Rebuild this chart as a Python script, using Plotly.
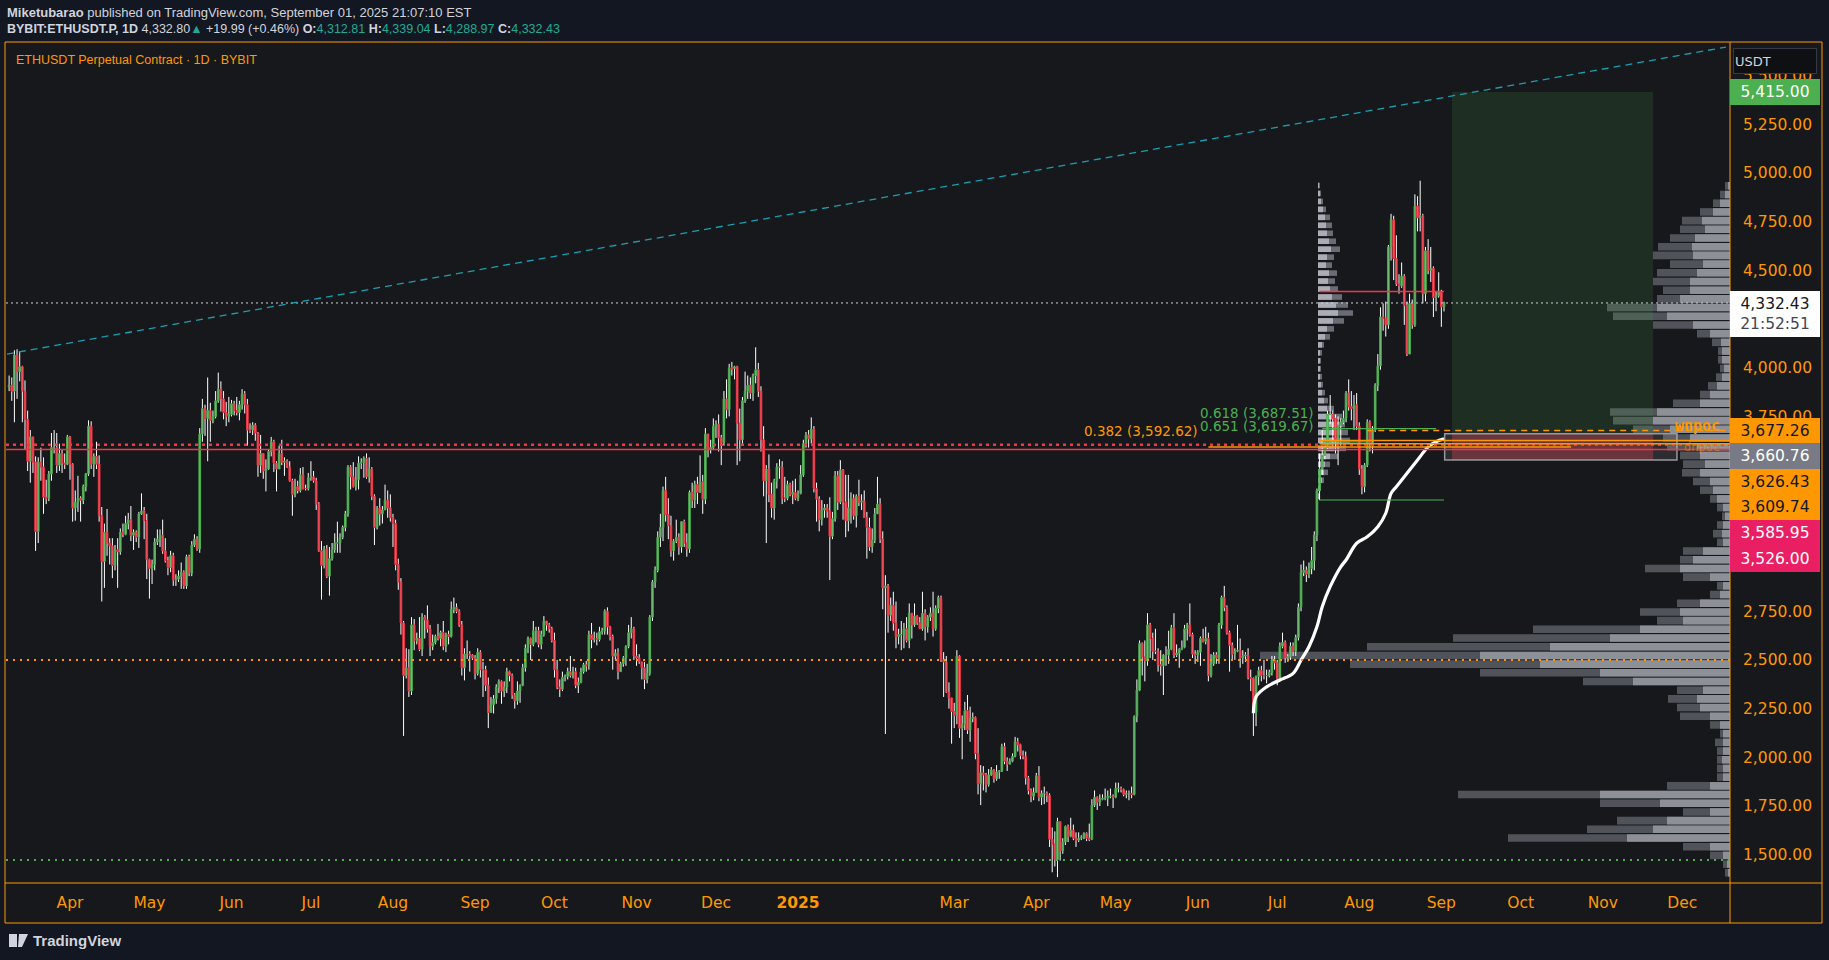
import pandas as pd
import plotly.graph_objects as go

# ---------------- DATA ----------------
first_open = 3900.0
month_starts = ["2024-03-09", "2024-04-01", "2024-05-01", "2024-06-01", "2024-07-01", "2024-08-01",
                "2024-09-01", "2024-10-01", "2024-11-01", "2024-12-01", "2025-01-01", "2025-02-01",
                "2025-03-01", "2025-04-01", "2025-05-01", "2025-06-01", "2025-07-01", "2025-08-01",
                "2025-09-01"]

close_m = [
    [3910,3880,4065,3980,4005,3880,3735,3520,3645,3515,3160,3515,3490,3335,3330,3455,3590,3590,3500,3560,3510,3505,3645],
    [3505,3280,3310,3330,3320,3390,3455,3700,3505,3545,3505,3240,3005,3155,3100,3085,2985,3065,3055,3155,3145,3200,3220,3140,3155,3130,3250,3265,3215,3015],
    [2970,2990,3105,3120,3140,3060,3010,2975,3035,2910,2915,2930,2950,2880,3030,2945,3090,3120,3070,3660,3790,3740,3780,3730,3750,3830,3890,3840,3770,3750,3760],
    [3815,3780,3770,3810,3865,3810,3680,3680,3705,3665,3500,3560,3470,3480,3570,3620,3510,3480,3560,3515,3520,3490,3420,3350,3390,3370,3450,3380,3380,3435],
    [3440,3420,3300,3060,2985,3070,2930,3020,3065,3100,3100,3130,3180,3250,3490,3440,3390,3425,3510,3515,3535,3440,3480,3340,3180,3280,3250,3270,3320,3280,3230],
    [3200,2990,2900,2690,2420,2460,2340,2680,2600,2610,2555,2720,2705,2660,2570,2590,2620,2610,2640,2570,2630,2620,2760,2770,2750,2680,2460,2530,2530,2525,2510],
    [2430,2540,2450,2450,2370,2230,2270,2300,2360,2390,2340,2360,2440,2420,2320,2290,2340,2370,2460,2560,2610,2580,2650,2650,2580,2630,2700,2680,2660,2600],
    [2450,2360,2350,2410,2415,2440,2420,2440,2370,2385,2440,2475,2470,2630,2605,2610,2605,2645,2650,2750,2670,2620,2520,2535,2440,2480,2510,2570,2640,2660,2520],
    [2510,2490,2460,2400,2430,2720,2900,2960,3130,3180,3370,3245,3190,3060,3110,3130,3080,3210,3100,3070,3360,3320,3400,3360,3415,3325,3660,3580,3590,3700],
    [3710,3640,3615,3840,3785,4000,3995,4005,3715,3630,3830,3880,3910,3870,3960,3990,3880,3630,3420,3480,3350,3280,3420,3490,3490,3330,3330,3400,3350,3360,3330],
    [3355,3450,3610,3655,3635,3685,3380,3325,3220,3270,3280,3265,3135,3225,3445,3310,3475,3310,3215,3280,3330,3240,3340,3310,3315,3230,3180,3080,3115,3250,3300],
    [3120,2870,2880,2730,2780,2690,2620,2630,2630,2660,2600,2740,2680,2725,2690,2660,2740,2670,2720,2740,2660,2765,2820,2500,2490,2335,2305,2235],
    [2215,2520,2150,2170,2240,2140,2200,2205,2020,1865,1920,1910,1860,1910,1935,1890,1925,1930,2055,1980,1965,1980,2005,2080,2065,2010,2005,1895,1830,1800,1820],
    [1905,1795,1815,1815,1805,1580,1555,1475,1670,1520,1565,1645,1595,1625,1585,1575,1585,1590,1610,1585,1580,1755,1795,1770,1785,1790,1790,1800,1800,1795],
    [1840,1840,1835,1810,1815,1815,1810,2210,2345,2585,2515,2495,2680,2610,2545,2545,2475,2470,2525,2525,2555,2665,2525,2535,2555,2565,2660,2680,2630,2530,2525],
    [2540,2610,2595,2610,2420,2480,2525,2510,2680,2820,2770,2640,2575,2530,2545,2550,2510,2520,2525,2410,2405,2230,2415,2445,2420,2420,2420,2435,2500,2485],
    [2405,2570,2590,2510,2515,2570,2545,2615,2770,2950,2960,2940,2970,3010,3140,3370,3480,3550,3590,3760,3760,3740,3630,3705,3720,3740,3870,3800,3790,3810,3700],
    [3480,3390,3500,3720,3610,3680,3910,4010,4260,4255,4220,4620,4760,4560,4430,4420,4470,4320,4070,4330,4220,4830,4770,4780,4380,4600,4500,4510,4360,4370,4390],
    [4312.81,4332.43],
]
high_m = [
    [3960,3950,4090,4095,4085,4010,3935,3780,3680,3615,3545,3540,3590,3540,3425,3470,3665,3680,3665,3610,3580,3560,3655],
    [3650,3510,3370,3445,3340,3400,3460,3730,3725,3560,3620,3550,3285,3200,3275,3125,3125,3090,3125,3175,3200,3240,3255,3290,3170,3165,3260,3355,3285,3250],
    [3020,3015,3125,3170,3170,3220,3125,3030,3060,3050,2940,2960,3000,2960,3040,3040,3110,3145,3135,3690,3840,3810,3950,3820,3780,3880,3975,3930,3880,3825,3850],
    [3835,3830,3850,3830,3890,3880,3840,3715,3720,3715,3670,3655,3560,3530,3580,3645,3630,3520,3600,3630,3540,3530,3520,3430,3430,3420,3485,3490,3400,3460],
    [3520,3470,3435,3310,3110,3085,3090,3080,3100,3150,3210,3150,3190,3265,3500,3500,3515,3490,3545,3535,3545,3560,3540,3490,3350,3290,3330,3290,3400,3370,3350],
    [3250,3220,3020,2920,2700,2560,2555,2720,2710,2640,2720,2740,2730,2780,2680,2630,2630,2685,2650,2700,2640,2650,2800,2820,2790,2760,2700,2560,2600,2545,2530],
    [2525,2560,2550,2490,2470,2410,2310,2320,2375,2400,2395,2390,2460,2445,2430,2330,2390,2375,2480,2580,2620,2615,2700,2670,2670,2650,2725,2700,2690,2670],
    [2640,2500,2400,2440,2425,2460,2520,2465,2460,2410,2460,2485,2495,2650,2690,2645,2640,2670,2665,2760,2770,2675,2630,2555,2560,2490,2520,2575,2680,2720,2670],
    [2580,2530,2490,2490,2480,2730,2910,2980,3160,3250,3390,3440,3330,3240,3120,3220,3150,3210,3220,3150,3370,3410,3420,3440,3550,3450,3690,3650,3630,3740],
    [3730,3760,3655,3880,3940,4020,4030,4010,4010,3790,3850,3980,3960,3950,3970,4105,4025,3905,3700,3500,3555,3410,3430,3510,3530,3520,3440,3420,3410,3420,3430],
    [3370,3500,3630,3670,3680,3745,3700,3410,3340,3320,3300,3300,3335,3260,3470,3470,3525,3480,3450,3450,3360,3350,3350,3425,3350,3370,3260,3230,3175,3280,3440],
    [3330,3160,2935,2890,2820,2850,2800,2660,2700,2690,2720,2790,2740,2790,2730,2720,2850,2760,2730,2770,2850,2780,2830,2830,2540,2520,2385,2300],
    [2280,2550,2525,2215,2285,2320,2260,2230,2210,2150,1960,1955,1920,1940,1950,1940,1960,1935,2070,2075,2000,1995,2020,2105,2100,2070,2035,2030,1905,1840,1845],
    [1920,1955,1830,1850,1825,1815,1640,1620,1690,1670,1585,1650,1655,1690,1655,1615,1615,1600,1615,1615,1660,1785,1830,1800,1810,1810,1840,1830,1840,1810],
    [1870,1870,1850,1840,1830,1830,1850,2215,2400,2600,2590,2600,2740,2690,2640,2660,2560,2550,2530,2570,2650,2680,2740,2580,2560,2600,2680,2690,2790,2640,2550],
    [2550,2620,2660,2670,2640,2530,2540,2540,2690,2830,2880,2780,2650,2590,2560,2680,2610,2550,2540,2560,2450,2410,2420,2465,2470,2500,2450,2450,2520,2520],
    [2500,2590,2640,2600,2530,2590,2590,2630,2790,2990,3010,2980,3000,3080,3160,3380,3560,3680,3610,3780,3860,3780,3760,3750,3740,3780,3880,3940,3880,3860,3870],
    [3720,3500,3510,3735,3730,3700,3920,4070,4310,4330,4340,4630,4790,4780,4680,4480,4540,4480,4340,4380,4350,4890,4880,4960,4790,4620,4660,4620,4520,4390,4490],
    [4400,4339.04],
]
low_m = [
    [3880,3830,3720,3840,3930,3720,3580,3470,3410,3460,3060,3100,3420,3250,3300,3315,3420,3560,3460,3470,3460,3480,3500],
    [3425,3210,3215,3260,3210,3300,3365,3445,3480,3440,3480,3210,2800,2870,3035,2990,2920,2960,2870,3040,3130,3140,3170,3110,3065,3105,3075,3245,3120,2915],
    [2815,2890,2960,3090,3080,3045,3000,2935,2950,2880,2880,2900,2865,2865,2865,2930,2930,3080,3060,3050,3620,3650,3520,3620,3715,3740,3820,3775,3735,3700,3720],
    [3750,3755,3755,3730,3785,3765,3600,3665,3655,3625,3440,3460,3430,3365,3475,3545,3465,3365,3485,3500,3445,3485,3415,3240,3335,3355,3360,3375,3370,3370],
    [3420,3410,3270,3055,2810,2970,2920,2830,3010,3050,3050,3050,3120,3160,3235,3375,3385,3370,3375,3480,3435,3430,3410,3320,3090,3170,3190,3200,3280,3230,3210],
    [3080,2960,2860,2630,2110,2405,2310,2320,2550,2580,2545,2520,2610,2640,2520,2550,2580,2600,2570,2550,2540,2580,2615,2740,2740,2670,2420,2395,2505,2440,2500],
    [2400,2420,2410,2310,2340,2150,2235,2225,2275,2330,2275,2310,2330,2390,2300,2250,2270,2280,2365,2440,2535,2500,2570,2590,2565,2555,2620,2650,2640,2590],
    [2410,2350,2310,2340,2390,2400,2410,2405,2355,2330,2380,2430,2440,2450,2560,2590,2575,2595,2630,2630,2630,2600,2450,2500,2400,2440,2465,2470,2560,2610,2500],
    [2470,2480,2400,2350,2380,2420,2700,2870,2950,3080,3110,3210,3120,3030,3010,3100,3040,3050,3080,3030,3050,3280,3280,3300,3360,3250,3300,3540,3560,3580],
    [3640,3570,3500,3600,3740,3750,3960,3940,3500,3520,3610,3820,3840,3840,3830,3920,3850,3570,3340,3100,3310,3230,3220,3380,3430,3300,3310,3320,3340,3300,3320],
    [3315,3350,3440,3590,3590,3610,3360,3210,3160,3190,3230,3230,2910,3120,3210,3270,3300,3220,3130,3160,3200,3220,3180,3290,3270,3230,3020,3060,3050,3100,3260],
    [3100,2760,2120,2640,2700,2650,2560,2580,2550,2560,2590,2560,2610,2670,2680,2660,2650,2600,2640,2700,2620,2650,2740,2490,2310,2330,2250,2070],
    [2150,2170,2100,1990,2140,2120,2080,2180,1990,1810,1755,1830,1820,1850,1905,1870,1880,1890,1925,1965,1930,1965,1975,2000,2030,1990,1990,1860,1810,1770,1780],
    [1820,1775,1755,1760,1770,1540,1410,1440,1385,1470,1505,1550,1565,1590,1575,1540,1565,1575,1580,1570,1570,1575,1745,1730,1750,1780,1780,1750,1790,1740],
    [1790,1820,1820,1800,1790,1780,1790,1805,2180,2340,2420,2390,2470,2510,2500,2530,2440,2420,2320,2470,2480,2550,2510,2515,2460,2550,2560,2600,2620,2510,2480],
    [2490,2470,2590,2580,2390,2410,2470,2480,2480,2660,2750,2630,2440,2500,2500,2540,2460,2480,2490,2400,2340,2110,2160,2370,2390,2400,2380,2410,2420,2450],
    [2370,2390,2560,2485,2490,2500,2520,2520,2600,2750,2930,2900,2920,2940,2960,3110,3320,3450,3530,3580,3710,3600,3560,3500,3600,3710,3720,3780,3730,3680,3680],
    [3450,3350,3360,3490,3570,3560,3670,3880,3990,4190,4160,4200,4550,4450,4420,4380,4410,4220,4060,4070,4200,4210,4700,4700,4330,4340,4480,4440,4260,4290,4360],
    [4210,4288.97],
]

# anchored VWAP (white curve)
vwap_dates = ["2025-06-22", "2025-06-23", "2025-06-27", "2025-07-02", "2025-07-07", "2025-07-10",
              "2025-07-13", "2025-07-16", "2025-07-18", "2025-07-21", "2025-07-25", "2025-07-27",
              "2025-07-31", "2025-08-04", "2025-08-08", "2025-08-11", "2025-08-13", "2025-08-15",
              "2025-08-20", "2025-08-23", "2025-08-27", "2025-08-30", "2025-09-02"]
vwap_vals = [2226, 2311, 2362, 2397, 2431, 2499, 2568, 2670, 2773, 2876, 2978, 3013,
             3099, 3132, 3184, 3253, 3355, 3389, 3475, 3526, 3594, 3620, 3635]

# visible-range volume profile (80 rows from the range low to the range high)
vp_low, vp_high = 1385.0, 4956.0
vp_total = [5, 7, 20, 47, 222, 143, 113, 47, 130, 272, 63, 13, 13, 13, 13, 15, 10, 20, 50, 53,
            62, 53, 147, 250, 380, 470, 363, 277, 197, 73, 90, 53, 20, 13, 47, 85, 50, 47, 13, 17,
            13, 8, 13, 20, 30, 37, 48, 47, 50, 63, 67, 97, 117, 120, 57, 30, 22, 14, 10, 12,
            12, 18, 33, 77, 117, 123, 73, 67, 77, 73, 60, 77, 72, 60, 50, 48, 30, 17, 10, 5]
vp_up = [2, 3, 7, 20, 103, 77, 63, 20, 70, 130, 20, 7, 7, 8, 7, 7, 7, 10, 20, 30,
         33, 27, 97, 130, 190, 250, 180, 120, 90, 47, 50, 30, 10, 7, 20, 50, 37, 27, 7, 8,
         7, 5, 7, 13, 17, 20, 30, 25, 30, 33, 40, 60, 77, 73, 30, 20, 13, 8, 6, 8,
         8, 9, 20, 37, 63, 73, 50, 40, 40, 33, 27, 37, 38, 35, 25, 28, 17, 10, 5, 2]

# session volume profile (anchored at Jul 17 2025)
sp_start = "2025-07-17"
sp_low, sp_step = 3320.0, 40.9
sp_total = [2, 3, 6, 10, 12, 20, 28, 32, 30, 27, 24, 16, 10, 7, 5, 4, 3, 3, 4, 6,
            12, 16, 26, 35, 30, 24, 20, 17, 19, 14, 16, 22, 18, 15, 14, 12, 8, 5, 3, 2]
sp_up = [1, 2, 4, 6, 7, 12, 16, 19, 18, 16, 14, 9, 6, 4, 3, 2, 2, 2, 2, 4,
         7, 9, 15, 20, 18, 14, 12, 10, 11, 8, 9, 13, 11, 9, 8, 7, 5, 3, 2, 1]

# levels
last_price = 4332.43
target_price = 5415.00
entry_price = 3660.76
stop_price = 3526.00
red_dotted_level = 3605.0
red_solid_level = 3580.0
orange_dotted_level = 2500.0
green_dotted_level = 1473.0
session_poc = 4391.0
fib_base = 3321.0
wnpoc_level = 3677.26
dnpoc_level = 3612.0
orange_levels = [3626.43, 3609.74]
fib_618, fib_651, fib_382 = 3687.51, 3619.67, 3592.62
trend_dates = ["2024-03-08 05:00", "2025-12-17 12:00"]
trend_prices = [4070.0, 5646.0]
axis_tags = [(3677.26, "#ff9800", "#131722"), (3660.76, "#787b86", "#ffffff"),
             (3626.43, "#ff9800", "#131722"), (3609.74, "#ff9800", "#131722"),
             (3585.95, "#e91e63", "#ffffff"), (3526.00, "#e91e63", "#ffffff")]
month_labels = ["Apr", "May", "Jun", "Jul", "Aug", "Sep", "Oct", "Nov", "Dec", "<b>2025</b>",
                "Mar", "Apr", "May", "Jun", "Jul", "Aug", "Sep", "Oct", "Nov", "Dec"]
month_ticks = ["2024-04-01", "2024-05-01", "2024-06-01", "2024-07-01", "2024-08-01", "2024-09-01",
               "2024-10-01", "2024-11-01", "2024-12-01", "2025-01-01", "2025-03-01", "2025-04-01",
               "2025-05-01", "2025-06-01", "2025-07-01", "2025-08-01", "2025-09-01", "2025-10-01",
               "2025-11-01", "2025-12-01"]
price_ticks = [1500, 1750, 2000, 2250, 2500, 2750, 3750, 4000, 4500, 4750, 5000, 5250, 5500]

# ---------------- BUILD ----------------
dates, opens, closes, highs, lows = [], [], [], [], []
prev = first_open
for ms, cs, hs, ls in zip(month_starts, close_m, high_m, low_m):
    start = pd.Timestamp(ms)
    for j, (c, h, l) in enumerate(zip(cs, hs, ls)):
        dates.append(start + pd.Timedelta(days=j))
        opens.append(prev)
        closes.append(c)
        highs.append(max(h, prev, c))
        lows.append(min(l, prev, c))
        prev = c

W, H = 1829, 960
L, R, T, B = 6, 1730, 42, 883
def fx(px):
    return (px - L) / (R - L)
def fy(py):
    return (B - py) / (B - T)

base = pd.Timestamp("2024-04-01")
ppd = 2.6474
xr0 = base + pd.Timedelta(days=(L - 70) / ppd)
xr1 = base + pd.Timedelta(days=(R - 70) / ppd)
yr = [1355.0, 5672.0]

ORANGE = "#ff9800"
GREEN = "#4caf50"
RED = "#f23645"
AXFONT = "DejaVu Sans"

fig = go.Figure()

# main volume profile (x axis 'x', reversed, anchored at the right edge)
vp_step = (vp_high - vp_low) / len(vp_total)
vp_y = [vp_low + vp_step * (i + 0.5) for i in range(len(vp_total))]
fig.add_trace(go.Bar(x=vp_total, y=vp_y, orientation="h", xaxis="x", yaxis="y",
                     width=vp_step * 0.87, marker=dict(color="#505359", line=dict(width=0)),
                     hoverinfo="skip", showlegend=False))
fig.add_trace(go.Bar(x=vp_up, y=vp_y, orientation="h", xaxis="x", yaxis="y",
                     width=vp_step * 0.87, marker=dict(color="#8d9097", line=dict(width=0)),
                     hoverinfo="skip", showlegend=False))

# session profile (x axis 'x2', zero at the session start)
sp_y = [sp_low + sp_step * (i + 0.5) for i in range(len(sp_total))]
fig.add_trace(go.Bar(x=sp_total, y=sp_y, orientation="h", xaxis="x2", yaxis="y",
                     width=sp_step * 0.7, marker=dict(color="rgba(115,118,128,0.9)", line=dict(width=0)),
                     hoverinfo="skip", showlegend=False))
fig.add_trace(go.Bar(x=sp_up, y=sp_y, orientation="h", xaxis="x2", yaxis="y",
                     width=sp_step * 0.7, marker=dict(color="rgba(178,181,190,0.9)", line=dict(width=0)),
                     hoverinfo="skip", showlegend=False))

# wicks (drawn on the hidden twin date axis x3, below the bodies)
wx, wy = [], []
for d, h, l in zip(dates, highs, lows):
    wx += [d, d, None]
    wy += [l, h, None]
fig.add_trace(go.Scatter(x=wx, y=wy, mode="lines", xaxis="x3", yaxis="y",
                         line=dict(color="#ffffff", width=1),
                         hoverinfo="skip", showlegend=False))

# candle bodies
fig.add_trace(go.Candlestick(
    x=dates, open=opens, close=closes,
    high=[max(o, c) for o, c in zip(opens, closes)],
    low=[min(o, c) for o, c in zip(opens, closes)],
    xaxis="x4", yaxis="y", whiskerwidth=0,
    increasing=dict(line=dict(color=GREEN, width=1), fillcolor="rgba(76,175,80,0.72)"),
    decreasing=dict(line=dict(color=RED, width=1), fillcolor="rgba(242,54,69,0.72)"),
    hoverinfo="skip", showlegend=False))

# anchored VWAP
fig.add_trace(go.Scatter(x=vwap_dates, y=vwap_vals, mode="lines", xaxis="x4", yaxis="y",
                         line=dict(color="#ffffff", width=3.2, shape="spline"),
                         hoverinfo="skip", showlegend=False))

shapes = []
shapes.append(dict(type="rect", xref="paper", yref="paper", x0=fx(5), x1=fx(1822), y0=fy(923), y1=fy(42),
                   fillcolor="#17181c", line=dict(width=0), layer="below"))

def hline(y, color, width=1, dash="solid", x0=None, x1=None):
    if x0 is None:
        return dict(type="line", xref="paper", yref="y", x0=0, x1=1, y0=y, y1=y,
                    line=dict(color=color, width=width, dash=dash))
    return dict(type="line", xref="x4", yref="y", x0=x0, x1=x1, y0=y, y1=y,
                line=dict(color=color, width=width, dash=dash))

xend = xr1
# long position tool
shapes.append(dict(type="rect", xref="x4", yref="y", x0="2025-09-05", x1="2025-11-20",
                   y0=entry_price, y1=target_price, fillcolor="rgba(76,175,80,0.15)",
                   line=dict(width=0)))
shapes.append(dict(type="rect", xref="x4", yref="y", x0="2025-09-05", x1="2025-11-20",
                   y0=stop_price, y1=entry_price, fillcolor="rgba(242,54,69,0.32)",
                   line=dict(width=0)))
shapes.append(dict(type="rect", xref="x4", yref="y", x0="2025-09-02 06:00", x1="2025-11-29",
                   y0=stop_price, y1=entry_price, fillcolor="rgba(200,200,205,0.12)",
                   line=dict(color="rgba(190,190,195,0.75)", width=1.5)))

# full-width levels
shapes.append(hline(last_price, "#d1d4dc", 1, "2px,3px"))
shapes.append(hline(orange_dotted_level, ORANGE, 2, "2px,5px"))
shapes.append(hline(green_dotted_level, GREEN, 2, "2px,5px"))
shapes.append(hline(red_dotted_level, RED, 2.5, "3px,4px"))
shapes.append(hline(red_solid_level, RED, 1.5))

# partial levels
shapes.append(hline(wnpoc_level, ORANGE, 1.5, "6px,5px", "2025-08-04", xend))
for lv in orange_levels:
    shapes.append(hline(lv, ORANGE, 1.5, "solid", "2025-07-17", xend))
shapes.append(hline(fib_382, ORANGE, 1.5, "solid", "2025-06-05", "2025-10-20"))
shapes.append(hline(fib_618, GREEN, 1.2, "solid", "2025-07-18", "2025-08-30"))
shapes.append(hline(fib_651, GREEN, 1.2, "solid", "2025-07-18", "2025-08-05"))
shapes.append(hline(fib_base, GREEN, 1.2, "solid", sp_start, "2025-09-02"))
shapes.append(hline(session_poc, RED, 1.5, "solid", sp_start, "2025-09-02"))

# trend line
shapes.append(dict(type="line", xref="x4", yref="y", x0=trend_dates[0], x1=trend_dates[1],
                   y0=trend_prices[0], y1=trend_prices[1],
                   line=dict(color="#1a9fb0", width=1.3, dash="7px,5px")))

# frame lines
fr = dict(color=ORANGE, width=1)
shapes.append(dict(type="rect", xref="paper", yref="paper", x0=fx(5), x1=fx(1822), y0=fy(923), y1=fy(42),
                   line=fr, fillcolor="rgba(0,0,0,0)"))
shapes.append(dict(type="line", xref="paper", yref="paper", x0=fx(5), x1=fx(1822), y0=fy(883), y1=fy(883), line=fr))
shapes.append(dict(type="line", xref="paper", yref="paper", x0=fx(1730), x1=fx(1730), y0=fy(923), y1=fy(42), line=fr))

# TradingView logo mark
shapes.append(dict(type="rect", xref="paper", yref="paper", x0=fx(9), x1=fx(17), y0=fy(947), y1=fy(934),
                   fillcolor="#d1d4dc", line=dict(width=0)))
shapes.append(dict(type="path", xref="paper", yref="paper",
                   path=f"M {fx(19)} {fy(934)} L {fx(28)} {fy(934)} L {fx(22)} {fy(947)} L {fx(18)} {fy(947)} Z",
                   fillcolor="#d1d4dc", line=dict(width=0)))

annotations = []
def ptext(text, px, py, size=13, color="#d1d4dc", family="Liberation Sans", xanchor="left"):
    annotations.append(dict(text=text, xref="paper", yref="paper", x=fx(px), y=fy(py),
                            xanchor=xanchor, yanchor="middle", showarrow=False,
                            font=dict(size=size, color=color, family=family)))

TEAL = "#22ab94"
ptext("<b>Miketubarao</b> published on TradingView.com, September 01, 2025 21:07:10 EST", 5, 13)
ptext("<b>BYBIT:ETHUSDT.P, 1D</b> 4,332.80<span style='color:%s'>▲</span> +19.99 (+0.46%%) "
      "<b>O:</b><span style='color:%s'>4,312.81</span> <b>H:</b><span style='color:%s'>4,339.04</span> "
      "<b>L:</b><span style='color:%s'>4,288.97</span> <b>C:</b><span style='color:%s'>4,332.43</span>"
      % (TEAL, TEAL, TEAL, TEAL, TEAL), 5, 29.5, size=12.5)
ptext("ETHUSDT Perpetual Contract · 1D · BYBIT", 14, 60.5, size=12.5, color=ORANGE)
ptext("<b>TradingView</b>", 31, 941, size=15, color="#d1d4dc")
annotations.append(dict(text="USDT", xref="paper", yref="paper", x=fx(1733), y=fy(61), xanchor="left",
                        yanchor="middle", showarrow=False, width=80, height=22, align="left",
                        bgcolor="#0f1014", bordercolor="#363a45", borderwidth=1, borderpad=1,
                        font=dict(size=13, color="#d1d4dc", family=AXFONT)))

# fib labels
def flabel(text, x, y, color, xshift):
    annotations.append(dict(text=text, xref="x4", yref="y", x=x, y=y, xanchor="right", yanchor="bottom",
                            xshift=xshift, yshift=6, showarrow=False,
                            font=dict(size=13.5, color=color, family=AXFONT)))
flabel("0.618 (3,687.51)", "2025-07-18", fib_618, GREEN, -6)
flabel("0.651 (3,619.67)", "2025-07-18", fib_651, GREEN, -6)
flabel("0.382 (3,592.62)", "2025-06-05", fib_382, ORANGE, -8)
annotations.append(dict(text="<b>wnpoc</b>", xref="paper", yref="y", x=fx(1722), y=wnpoc_level,
                        xanchor="right", yanchor="bottom", showarrow=False, yshift=-6,
                        font=dict(size=15, color=ORANGE, family="DejaVu Sans Mono")))
annotations.append(dict(text="dnpoc", xref="paper", yref="y", x=fx(1722), y=wnpoc_level,
                        xanchor="right", yanchor="top", showarrow=False, yshift=-7,
                        font=dict(size=12, color="rgba(255,152,0,0.55)", family="DejaVu Sans Mono")))

# price axis tags
def tag(text, y, bg, fg, yshift=0, height=24, yanchor="middle"):
    annotations.append(dict(text=text, xref="paper", yref="y", x=1, y=y, xanchor="left", yanchor=yanchor,
                            yshift=yshift, showarrow=False, width=88, height=height, align="center",
                            bgcolor=bg, borderpad=1, borderwidth=0,
                            font=dict(size=15.5, color=fg, family=AXFONT)))
tag(f"{target_price:,.2f}", target_price, GREEN, "#ffffff")
tag(f"{last_price:,.2f}<br><span style='color:#434651'>21:52:51</span>", last_price, "#ffffff", "#131722",
    yshift=12, height=44, yanchor="top")
top_tag = axis_tags[0][0]
for k, (v, bg, fg) in enumerate(axis_tags):
    tag(f"{v:,.2f}", top_tag, bg, fg, yshift=-25.6 * k)

date_axis_common = dict(domain=[0, 1], range=[xr0, xr1], type="date", anchor="y",
                        showgrid=False, zeroline=False, showline=False, fixedrange=True,
                        rangeslider=dict(visible=False))
fig.update_layout(
    width=W, height=H,
    margin=dict(l=L, r=W - R, t=T, b=H - B),
    paper_bgcolor="#131722", plot_bgcolor="rgba(0,0,0,0)",
    barmode="overlay", boxgap=0.12, showlegend=False, hovermode=False,
    font=dict(family=AXFONT, color="#d1d4dc"),
    xaxis=dict(domain=[0, 1], range=[R - L, 0], visible=False, anchor="y", fixedrange=True),
    xaxis2=dict(domain=[0, 1], range=[-(1318 - L), R - 1318], visible=False, anchor="y", fixedrange=True),
    xaxis3=dict(visible=False, **date_axis_common),
    xaxis4=dict(tickmode="array", tickvals=month_ticks, ticktext=month_labels, ticks="",
                tickfont=dict(size=15.5, color=ORANGE, family=AXFONT), ticklabelstandoff=8,
                **date_axis_common),
    yaxis=dict(range=yr, side="right", anchor="x4", tickmode="array", tickvals=price_ticks,
               ticktext=[f"{v:,.2f}" for v in price_ticks],
               showgrid=False, zeroline=False, showline=False, ticks="",
               tickfont=dict(size=15.5, color=ORANGE, family=AXFONT), ticklabelstandoff=12),
    shapes=shapes, annotations=annotations,
)

fig.write_html("out.html", config={"displayModeBar": False},
               post_script="document.body.style.margin='0';document.body.style.background='#131722';")
